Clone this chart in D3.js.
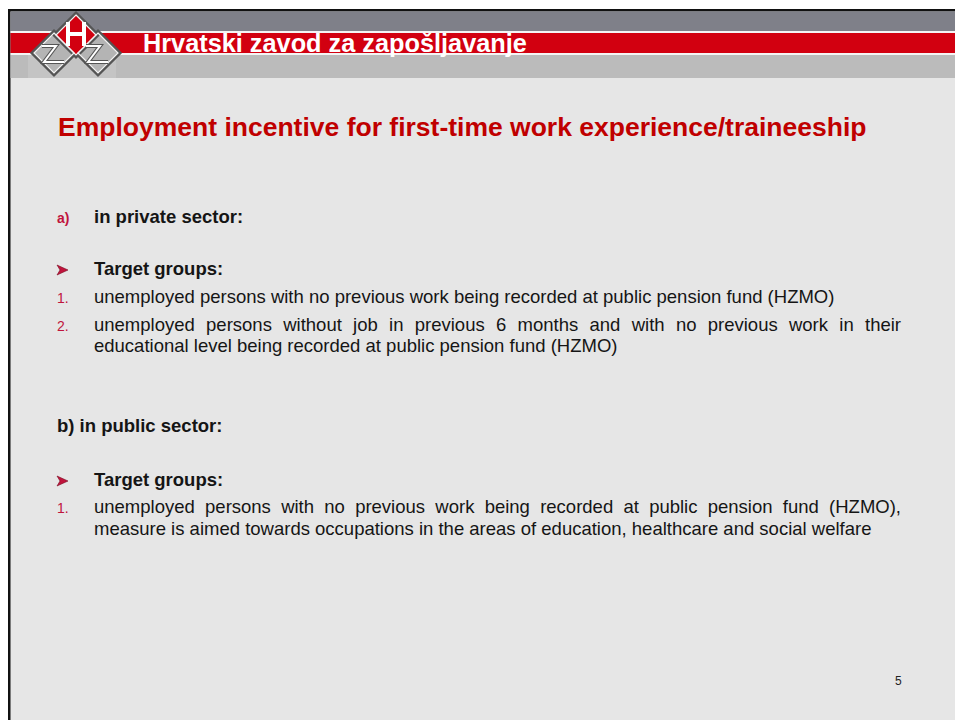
<!DOCTYPE html>
<html>
<head>
<meta charset="utf-8">
<script src="https://cdn.jsdelivr.net/npm/d3@7"></script>
<style>
  body { margin: 0; background: #fff; }
  svg { display: block; font-family: "Liberation Sans", Arial, sans-serif; }
</style>
</head>
<body>
<svg class="slide" width="955" height="720"></svg>
<script>
// slide texts
const headerTitle = "Hrvatski zavod za zapošljavanje"
const slideTitle = "Employment incentive for first-time work experience/traineeship"
const pageNumber = "5"

// each row: marker, text, kind
const rowMarkers = ["a)", "➢", "1.", "2.", "", "b)", "➢", "1.", ""]
const rowTexts = [
  "in private sector:",
  "Target groups:",
  "unemployed persons with no previous work being recorded at public pension fund (HZMO)",
  "unemployed persons without job in previous 6 months and with no previous work in their",
  "educational level being recorded at public pension fund (HZMO)",
  "b) in public sector:",
  "Target groups:",
  "unemployed persons with no previous work being recorded at public pension fund (HZMO),",
  "measure is aimed towards occupations in the areas of education, healthcare and social welfare"
]
const rowBold = [true, true, false, false, false, true, true, false, false]
const rowJustify = [false, false, false, true, false, false, false, true, false]

const W = 955, H = 720
const svg = d3.select("svg.slide")

// layout of rows (baselines)
const rowY = [223, 275, 303, 331, 352, 432, 486, 513, 535]
const markerX = 57, textX = 94, rightX = 901

// background + frame
svg.append("rect").attr("x", 8).attr("y", 9).attr("width", W - 8).attr("height", H - 9).attr("fill", "#e6e6e6")
svg.append("rect").attr("x", 8).attr("y", 9).attr("width", 2.5).attr("height", H - 9).attr("fill", "#111")
svg.append("rect").attr("x", 8).attr("y", 9).attr("width", W - 8).attr("height", 2.5).attr("fill", "#111")

// header bands
const bands = [
  { y: 11.5, h: 19.5, c: "#7f8089" },
  { y: 31, h: 2, c: "#f4f4f4" },
  { y: 33, h: 20, c: "#d20010" },
  { y: 53, h: 2, c: "#f4f4f4" },
  { y: 55, h: 23, c: "#bbbbbb" }
]
svg.selectAll("rect.band")
  .data(bands)
  .enter()
  .append("rect")
  .attr("class", "band")
  .attr("x", 10.5)
  .attr("y", d => d.y)
  .attr("width", W - 10.5)
  .attr("height", d => d.h)
  .attr("fill", d => d.c)

// logo: three diamonds
const logo = svg.append("g").attr("class", "logo")
logo.append("rect").attr("x", 28).attr("y", 55).attr("width", 88).attr("height", 23).attr("fill", "#c4c4c4")
const dia = (cx, cy, r) => `M${cx},${cy - r}L${cx + r},${cy}L${cx},${cy + r}L${cx - r},${cy}Z`
const diamonds = [
  { cx: 54, cy: 53, fill: "#b4b4b4" },
  { cx: 98, cy: 53, fill: "#b4b4b4" },
  { cx: 76, cy: 35, fill: "#d20010" }
]
logo.selectAll("path.dia")
  .data(diamonds)
  .enter()
  .append("path")
  .attr("class", "dia")
  .attr("d", d => dia(d.cx, d.cy, 22))
  .attr("fill", d => d.fill)
  .attr("stroke", "#555")
  .attr("stroke-width", 3)
logo.selectAll("path.dia2")
  .data(diamonds)
  .enter()
  .append("path")
  .attr("d", d => dia(d.cx, d.cy, 20))
  .attr("fill", "none")
  .attr("stroke", "#f2f2f2")
  .attr("stroke-width", 1.2)
// Z strokes inside lower diamonds
;[54, 98].forEach(cx => {
  const z = `M${cx - 12},${46}L${cx + 2},${46}L${cx - 10},${62}L${cx + 10},${62}`
  logo.append("path").attr("d", z).attr("fill", "none").attr("stroke", "#555").attr("stroke-width", 4)
  logo.append("path").attr("d", z).attr("fill", "none").attr("stroke", "#fff").attr("stroke-width", 2)
})
// H in the top diamond
const hPath = "M68,22L68,46M84,22L84,46M68,34L84,34"
logo.append("path").attr("d", hPath).attr("fill", "none").attr("stroke", "#fff").attr("stroke-width", 4)

// header title
svg.append("text")
  .attr("x", 143)
  .attr("y", 52)
  .attr("font-size", 25.3)
  .attr("font-weight", "bold")
  .attr("fill", "#fff")
  .text(headerTitle)

// slide title
svg.append("text")
  .attr("x", 58)
  .attr("y", 136)
  .attr("font-size", 26.5)
  .attr("font-weight", "bold")
  .attr("fill", "#c00000")
  .text(slideTitle)

// markers
const rows = svg.selectAll("g.row")
  .data(rowTexts)
  .enter()
  .append("g")
  .attr("class", "row")
  .attr("transform", (d, i) => `translate(0, ${rowY[i]})`)

rows.filter((d, i) => rowMarkers[i] === "1." || rowMarkers[i] === "2." || rowMarkers[i] === "a)")
  .append("text")
  .attr("x", markerX)
  .attr("y", 0)
  .attr("font-size", 14)
  .attr("font-weight", d => rowMarkers[rowTexts.indexOf(d)] === "a)" ? "bold" : "normal")
  .attr("fill", "#c0143c")
  .text(d => rowMarkers[rowTexts.indexOf(d)])

rows.filter((d, i) => rowMarkers[i] === "➢")
  .append("path")
  .attr("d", `M${markerX},-10L${markerX + 11},-5L${markerX},0L${markerX + 3},-5Z`)
  .attr("fill", "#c0143c")
  .attr("stroke", "#7a0a22")
  .attr("stroke-width", 0.6)

// row texts
rows.append("text")
  .attr("class", "body")
  .attr("x", (d, i) => rowMarkers[i] === "b)" ? markerX : textX)
  .attr("y", 0)
  .attr("font-size", 18.5)
  .attr("font-weight", (d, i) => rowBold[i] ? "bold" : "normal")
  .attr("fill", "#151515")
  .text(d => d)

// justify lines by spreading word spacing
rows.selectAll("text.body").each(function (d) {
  const i = rowTexts.indexOf(d)
  if (!rowJustify[i]) return
  const len = this.getComputedTextLength()
  const spaces = d.split(" ").length - 1
  d3.select(this).attr("word-spacing", (rightX - textX - len) / spaces)
})

// page number
svg.append("text")
  .attr("x", 895)
  .attr("y", 685)
  .attr("font-size", 12)
  .attr("fill", "#222")
  .text(pageNumber)
</script>
</body>
</html>
